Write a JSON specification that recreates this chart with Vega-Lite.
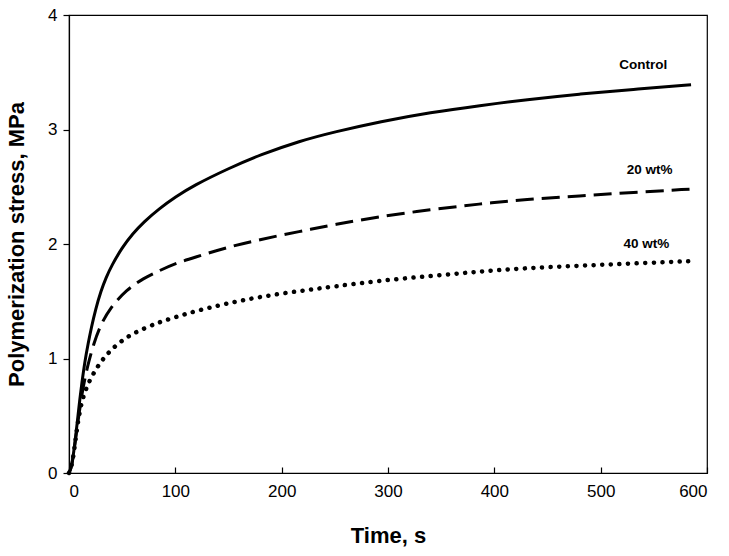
{
  "$schema": "https://vega.github.io/schema/vega-lite/v6.json",
  "width": 638,
  "height": 458,
  "autosize": {"type": "none"},
  "padding": {"left": 69, "top": 15, "right": 22, "bottom": 83},
  "background": "white",
  "config": {
    "view": {"stroke": "black", "strokeWidth": 1.2},
    "font": "Liberation Sans",
    "axis": {"grid": false, "domainColor": "black", "tickColor": "black", "labelColor": "black", "titleColor": "black", "labelFont": "Liberation Sans", "titleFont": "Liberation Sans", "labelFontSize": 17, "titleFontSize": 22, "titleFontWeight": "bold", "domainWidth": 1.2, "tickWidth": 1.2}
  },
  "datasets": {
    "curves": [
      {"t":0,"s":0,"g":"Control"},{"t":2,"s":0.04,"g":"Control"},{"t":4,"s":0.15,"g":"Control"},{"t":6,"s":0.3,"g":"Control"},{"t":8,"s":0.46,"g":"Control"},{"t":10,"s":0.63,"g":"Control"},{"t":12,"s":0.78,"g":"Control"},{"t":15,"s":0.98,"g":"Control"},{"t":18,"s":1.13,"g":"Control"},{"t":21,"s":1.27,"g":"Control"},{"t":25,"s":1.43,"g":"Control"},{"t":30,"s":1.59,"g":"Control"},{"t":35,"s":1.71,"g":"Control"},{"t":40,"s":1.81,"g":"Control"},{"t":50,"s":1.97,"g":"Control"},{"t":60,"s":2.09,"g":"Control"},{"t":70,"s":2.19,"g":"Control"},{"t":85,"s":2.31,"g":"Control"},{"t":100,"s":2.41,"g":"Control"},{"t":117,"s":2.51,"g":"Control"},{"t":150,"s":2.66,"g":"Control"},{"t":180,"s":2.78,"g":"Control"},{"t":217,"s":2.9,"g":"Control"},{"t":250,"s":2.98,"g":"Control"},{"t":293,"s":3.07,"g":"Control"},{"t":340,"s":3.15,"g":"Control"},{"t":387,"s":3.21,"g":"Control"},{"t":430,"s":3.26,"g":"Control"},{"t":480,"s":3.31,"g":"Control"},{"t":530,"s":3.35,"g":"Control"},{"t":585,"s":3.39,"g":"Control"},
      {"t":0,"s":0,"g":"20"},{"t":2,"s":0.04,"g":"20"},{"t":4,"s":0.14,"g":"20"},{"t":6,"s":0.28,"g":"20"},{"t":8,"s":0.42,"g":"20"},{"t":10,"s":0.55,"g":"20"},{"t":12,"s":0.68,"g":"20"},{"t":15,"s":0.83,"g":"20"},{"t":18.5,"s":0.97,"g":"20"},{"t":23,"s":1.12,"g":"20"},{"t":29,"s":1.28,"g":"20"},{"t":38.5,"s":1.44,"g":"20"},{"t":54,"s":1.6,"g":"20"},{"t":70,"s":1.7,"g":"20"},{"t":85.6,"s":1.77,"g":"20"},{"t":100,"s":1.83,"g":"20"},{"t":117,"s":1.88,"g":"20"},{"t":148,"s":1.97,"g":"20"},{"t":180,"s":2.04,"g":"20"},{"t":217,"s":2.11,"g":"20"},{"t":250,"s":2.17,"g":"20"},{"t":292,"s":2.24,"g":"20"},{"t":340,"s":2.3,"g":"20"},{"t":386,"s":2.35,"g":"20"},{"t":430,"s":2.39,"g":"20"},{"t":480,"s":2.42,"g":"20"},{"t":530,"s":2.45,"g":"20"},{"t":585,"s":2.48,"g":"20"},
      {"t":0,"s":0,"g":"40"},{"t":2,"s":0.04,"g":"40"},{"t":4,"s":0.14,"g":"40"},{"t":6,"s":0.28,"g":"40"},{"t":8,"s":0.42,"g":"40"},{"t":10,"s":0.53,"g":"40"},{"t":12,"s":0.62,"g":"40"},{"t":15,"s":0.71,"g":"40"},{"t":18.5,"s":0.79,"g":"40"},{"t":23,"s":0.87,"g":"40"},{"t":29,"s":0.96,"g":"40"},{"t":38.5,"s":1.07,"g":"40"},{"t":54,"s":1.19,"g":"40"},{"t":70,"s":1.26,"g":"40"},{"t":85.6,"s":1.32,"g":"40"},{"t":100,"s":1.36,"g":"40"},{"t":117,"s":1.41,"g":"40"},{"t":148,"s":1.48,"g":"40"},{"t":180,"s":1.54,"g":"40"},{"t":217,"s":1.59,"g":"40"},{"t":250,"s":1.63,"g":"40"},{"t":292,"s":1.68,"g":"40"},{"t":340,"s":1.72,"g":"40"},{"t":386,"s":1.76,"g":"40"},{"t":430,"s":1.79,"g":"40"},{"t":480,"s":1.81,"g":"40"},{"t":530,"s":1.83,"g":"40"},{"t":585,"s":1.85,"g":"40"}
    ],
    "labels": [
      {"t":540,"s":3.56,"label":"Control"},
      {"t":546,"s":2.65,"label":"20 wt%"},
      {"t":543,"s":2.0,"label":"40 wt%"}
    ]
  },
  "layer": [
    {
      "data": {"name": "curves"},
      "transform": [{"filter": "datum.g === 'Control'"}],
      "mark": {"type": "line", "color": "black", "strokeWidth": 3, "interpolate": "basis"},
      "encoding": {
        "x": {"field": "t", "type": "quantitative", "scale": {"domain": [0, 600]}, "axis": {"title": "Time, s", "values": [0,100,200,300,400,500,600], "tickSize": -6, "labelPadding": 16, "titlePadding": 26}},
        "y": {"field": "s", "type": "quantitative", "scale": {"domain": [0, 4]}, "axis": {"title": "Polymerization stress, MPa", "values": [0,1,2,3,4], "format": "d", "tickSize": 6, "labelPadding": 6, "titlePadding": 19}}
      }
    },
    {
      "data": {"name": "curves"},
      "transform": [{"filter": "datum.g === '20'"}],
      "mark": {"type": "line", "color": "black", "strokeWidth": 3, "strokeDash": [18, 8], "interpolate": "basis"},
      "encoding": {
        "x": {"field": "t", "type": "quantitative"},
        "y": {"field": "s", "type": "quantitative"}
      }
    },
    {
      "data": {"name": "curves"},
      "transform": [{"filter": "datum.g === '40'"}],
      "mark": {"type": "line", "color": "black", "strokeWidth": 4.5, "strokeDash": [0.1, 8.5], "strokeCap": "round", "interpolate": "basis"},
      "encoding": {
        "x": {"field": "t", "type": "quantitative"},
        "y": {"field": "s", "type": "quantitative"}
      }
    },
    {
      "data": {"name": "labels"},
      "mark": {"type": "text", "fontSize": 13.5, "fontWeight": "bold", "font": "Liberation Sans", "color": "black", "align": "center", "baseline": "middle"},
      "encoding": {
        "x": {"field": "t", "type": "quantitative"},
        "y": {"field": "s", "type": "quantitative"},
        "text": {"field": "label"}
      }
    }
  ]
}
